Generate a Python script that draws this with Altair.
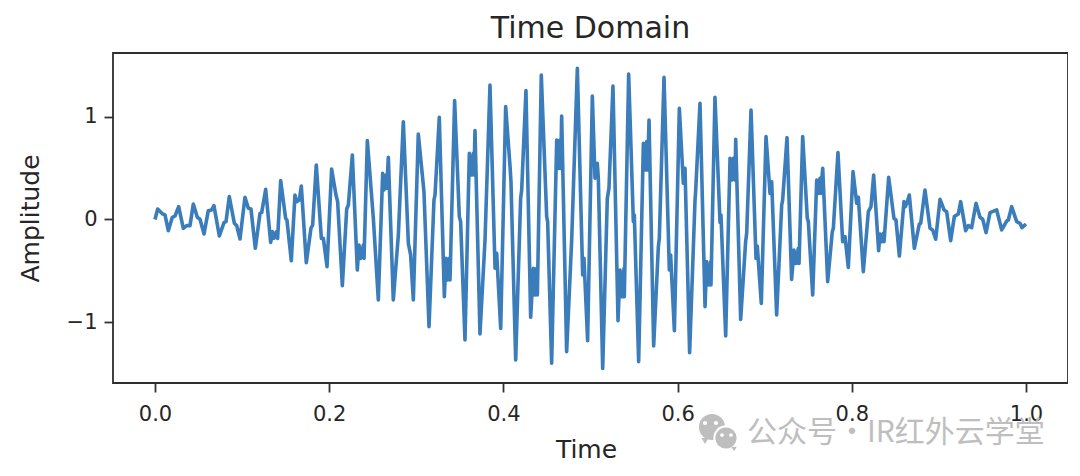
import altair as alt
import pandas as pd

time_s = [
0,.0031,.0088,.0115,.0153,.0199,.0230,.0272,.0325,.0364,.0402,.0440,.0486,.0517,.0563,.0612,.0651,.0677,.0739,.0792,.0815,.0853,.0911,.0938,.0976,
.1033,.1072,.1102,.1152,.1206,.1225,.1271,.1328,.1351,.1366,.1397,.1408,.1443,.1500,.1515,.1565,.1607,.1626,.1657,.1680,.1737,.1791,.1810,.1852,.1910,.1933,.1975,
.2028,.2078,.2097,.2151,.2201,.2220,.2266,.2323,.2342,.2361,.2392,.2400,.2438,
.2507,.2564,.2614,.2629,.2652,.2660,.2679,.2736,.2794,.2851,.2909,.2935,.2966,.3023,.3073,.3088,.3146,.3203,.3215,.3264,.3322,.3341,.3356,.3379,.3387,.3440,.3494,.3509,.3559,
.3609,.3636,.3655,.3662,.3674,.3731,.3789,.3846,.3904,.3923,.3969,.4026,.4076,.4087,.4141,.4198,.4210,.4259,.4313,.4344,.4363,.4382,.4390,.4435,.4497,.4508,.4554,
.4612,.4638,.4650,.4657,.4669,.4726,.4784,.4849,.4910,.4925,.4967,
.5021,.5052,.5078,.5090,.5140,.5193,.5212,.5258,.5316,.5339,.5358,.5385,.5388,.5438,.5492,.5503,.5553,.5607,.5626,.5645,.5656,.5672,.5725,.5779,.5790,.5844,.5905,.5920,.5963,
.6020,.6066,.6085,.6138,.6200,.6207,.6257,.6315,.6334,.6353,.6380,.6383,.6429,.6487,.6498,.6552,.6602,.6621,.6640,.6659,.6667,.6724,.6781,.6793,.6843,.6900,.6915,.6961,
.7015,.7061,.7080,.7137,.7195,.7206,.7256,.7309,.7336,.7359,.7386,.7394,
.7436,.7489,.7501,.7551,.7597,.7616,.7635,.7642,.7666,.7723,.7776,.7788,.7841,.7895,.7922,.7960,.8014,.8056,.8075,.8132,.8190,.8220,.8251,.8308,.8324,.8343,.8362,.8370,.8423,.8484,.8507,.8546,
.8599,.8615,.8638,.8660,.8718,.8775,.8791,.8840,.8898,.8928,.8963,.9013,.9059,.9089,.9135,.9177,.9223,.9250,.9307,.9338,.9376,.9426,.9472,.9503,.9541,.9587,.9663,.9721,.9778,.9797,.9835,.9893,.9931,.9954,1.0,
]
amplitude = [
0,.102,.054,.044,-.109,.021,.034,.125,-.086,-.060,-.060,.151,.021,.002,-.141,.086,.093,.135,-.161,-.031,-.021,.223,-.037,-.060,-.190,
.216,.109,.102,-.281,.060,.067,.294,-.223,-.119,-.184,-.119,-.184,.379,.011,-.005,-.402,.239,.174,.190,.327,-.421,-.086,-.054,.532,-.184,-.184,-.460,
.493,.239,.174,-.646,.102,.141,.629,-.493,-.249,-.379,-.249,-.379,.769,
.011,-.785,.450,.288,.434,.304,.606,-.785,-.151,.954,-.233,-.346,-.785,.834,.402,.272,-1.045,.190,.239,.997,-.753,-.379,-.590,-.379,-.590,1.159,.028,-.021,-1.176,
.646,.434,.646,.434,.867,-1.117,-.200,1.312,-.476,-.330,-1.062,1.101,.522,.369,-1.371,.206,.288,1.257,-.954,-.476,-.737,-.476,-.737,1.410,.028,-.021,-1.403,
.776,.499,.776,.499,1.010,-1.289,-.200,1.475,-.541,-.379,-1.182,
1.205,.402,.548,.402,-1.452,.206,.304,1.302,-.987,-.493,-.753,-.476,-.753,1.419,-.021,.044,-1.387,.743,.483,.759,.483,.971,-1.234,-.265,-.184,1.387,-.493,-.346,-1.085,
1.085,.353,.499,-1.299,.190,.272,1.133,-.850,-.411,-.639,-.411,-.639,1.192,-.028,.044,-1.137,.597,.385,.597,.385,.782,-.974,-.216,-.135,1.068,-.379,-.259,-.818,
.808,.255,.369,-.932,.141,.190,.798,-.584,-.298,-.428,-.281,-.428,
.808,.011,-.021,-.737,.385,.255,.402,.255,.499,-.606,-.119,-.086,.652,-.216,-.167,-.467,.467,.158,.216,-.509,.076,.125,.434,-.304,-.141,-.216,-.135,-.216,.411,.011,-.005,-.356,
.174,.125,.174,.239,-.281,-.044,-.037,.288,-.086,-.102,-.193,.197,.093,.076,-.206,.028,.054,.174,-.109,-.060,-.080,.158,.021,.002,-.128,.067,.093,-.102,-.015,-.005,.125,-.021,-.037,-.080,-.044,
]
x_ticks = [0.0, 0.2, 0.4, 0.6, 0.8, 1.0]
y_ticks = [-1, 0, 1]
title_text = "Time Domain"
x_label = "Time"
y_label = "Amplitude"
watermark = "公众号·IR红外云学堂"

df = pd.DataFrame({"t": time_s, "a": amplitude})
TXT = "#262626"
GREY = "#bebebe"

line = alt.Chart(df).mark_line(color="#3b7cbb", strokeWidth=3.6, strokeJoin="round", clip=True).encode(
    x=alt.X("t:Q", scale=alt.Scale(domain=[-0.0482, 1.0482], nice=False, zero=False),
            axis=alt.Axis(values=x_ticks, format=".1f", title=x_label, grid=False, domain=False,
                          tickSize=9, tickWidth=1.8, tickColor="#333333",
                          labelFontSize=21, labelColor=TXT, labelPadding=11, labelFont="DejaVu Sans",
                          titleFontSize=25, titleColor=TXT, titleFontWeight="normal", titleFont="DejaVu Sans",
                          titlePadding=13, titleX=473)),
    y=alt.Y("a:Q", scale=alt.Scale(domain=[-1.595, 1.624], nice=False, zero=False),
            axis=alt.Axis(values=y_ticks, format="d", title=y_label, grid=False, domain=False,
                          tickSize=9, tickWidth=1.8, tickColor="#333333",
                          labelFontSize=21, labelColor=TXT, labelPadding=7, labelFont="DejaVu Sans",
                          titleFontSize=25, titleColor=TXT, titleFontWeight="normal", titleFont="DejaVu Sans",
                          titlePadding=23)),
)

one = pd.DataFrame({"k": [0]})

def dot(px, py, size, color, shape="circle"):
    return alt.Chart(one).mark_point(shape=shape, size=size, color=color, filled=True, opacity=1, clip=False).encode(
        x=alt.value(px - 113), y=alt.value(py - 53))

icon = [
    dot(705, 441, 50, GREY, "triangle-down"),
    dot(712, 427, 680, GREY),
    dot(726, 438, 640, "#ffffff"),
    dot(734, 449, 30, GREY, "triangle-down"),
    dot(726, 438, 450, GREY),
    dot(705, 423, 18, "#ffffff"),
    dot(716, 423, 18, "#ffffff"),
    dot(722, 435, 14, "#ffffff"),
    dot(731, 435, 14, "#ffffff"),
]

wm = alt.Chart(one).mark_text(text=watermark, font="Noto Sans CJK SC", fontSize=30, color=GREY,
                              align="left", baseline="middle", clip=False).encode(
    x=alt.value(747 - 113), y=alt.value(433 - 53))

chart = alt.layer(line, *icon, wm).properties(
    width=955, height=330,
    title=alt.TitleParams(title_text, fontSize=30, font="DejaVu Sans", fontWeight="normal", color=TXT, offset=9),
    padding={"left": 105, "top": 45, "right": 0, "bottom": 90},
    autosize=alt.AutoSizeParams(type="none"),
    background="#ffffff",
).configure_view(stroke="#2e2e2e", strokeWidth=1.8)

chart.save("out.html", embed_options={"renderer": "svg", "actions": False})
